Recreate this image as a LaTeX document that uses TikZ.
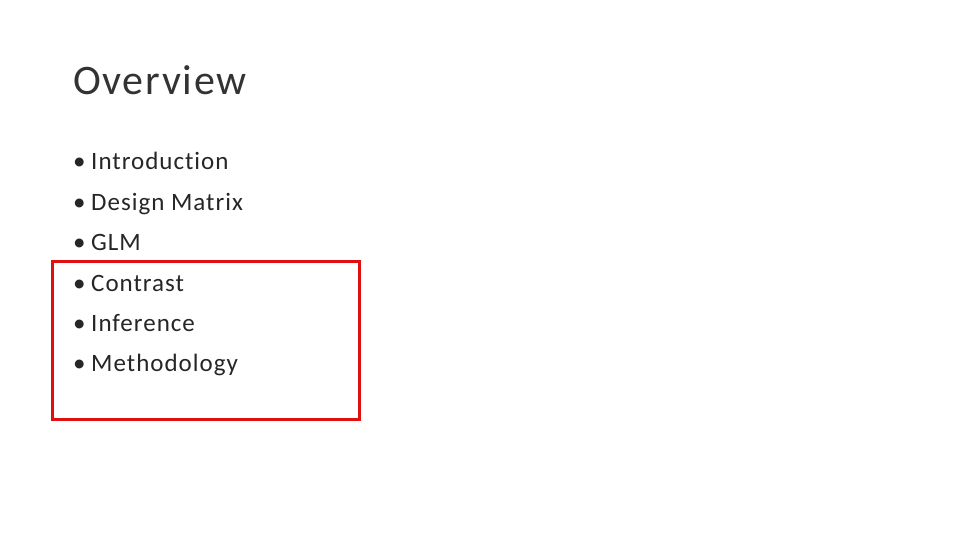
\documentclass[tikz,border=0pt]{standalone}
\usepackage{fontspec}
\setmainfont{Carlito}[Ligatures=NoCommon,LetterSpace=4]
\begin{document}
\begin{tikzpicture}[x=1pt,y=-1pt,
  item/.style={anchor=base west,inner sep=0pt,font=\fontsize{25}{25}\selectfont,text=black!85}]
\useasboundingbox[fill=white] (0,0) rectangle (960,540);
\node[anchor=base west,inner sep=0pt,font=\fontsize{42}{42}\selectfont,text=black!80] (title) at (73,95) {Overview};
\node[item] (b1) at (73,170) {\textbullet}; \node[item] (i1) at (91,170) {Introduction};
\node[item] (b2) at (73,210) {\textbullet}; \node[item] (i2) at (91,210) {Design Matrix};
\node[item] (b3) at (73,250) {\textbullet}; \node[item] (i3) at (91,250) {GLM};
\node[item] (b4) at (73,291) {\textbullet}; \node[item] (i4) at (91,291) {Contrast};
\node[item] (b5) at (73,331) {\textbullet}; \node[item] (i5) at (91,331) {Inference};
\node[item] (b6) at (73,371) {\textbullet}; \node[item] (i6) at (91,371) {Methodology};
\draw[draw={rgb,255:red,224;green,16;blue,16},line width=3] (52,261) rectangle (359,419);
\end{tikzpicture}
\end{document}
